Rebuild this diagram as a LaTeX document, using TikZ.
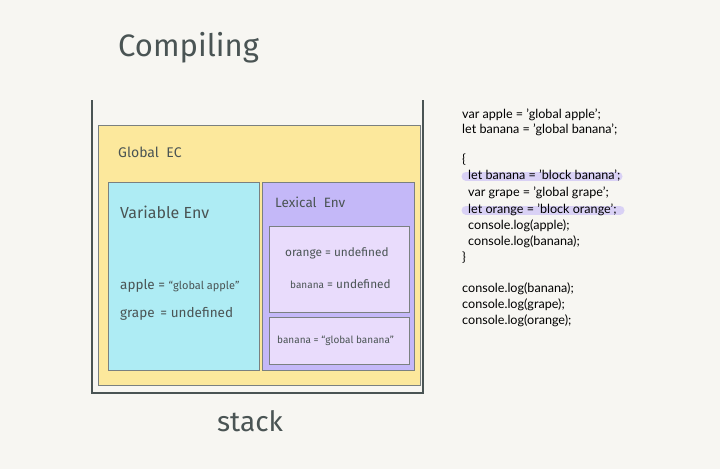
\documentclass[tikz,border=0pt]{standalone}
\usepackage{fontspec}
\setmainfont{Lato}[Ligatures=ResetAll]
\newfontfamily\hand{Fira Sans}
\definecolor{bg}{HTML}{F7F6F2}
\definecolor{ink}{HTML}{4A5454}
\definecolor{edge}{HTML}{7A8080}
\definecolor{ecyellow}{HTML}{FCE89C}
\definecolor{varcyan}{HTML}{AEECF4}
\definecolor{lexpurple}{HTML}{C4B8F8}
\definecolor{innerpurple}{HTML}{E9DCFC}
\definecolor{hilite}{HTML}{D9D1F5}
\begin{document}
\begin{tikzpicture}[x=1pt,y=-1pt,
  envbox/.style={draw=edge,line width=0.8pt},
  handtext/.style={text=ink,font=\hand\fontsize{13.5}{15}\selectfont,anchor=west,inner sep=0pt},
  codeline/.style={anchor=west,inner sep=0pt,font=\fontsize{12.6}{14}\selectfont,text=black},
  hl/.style={line width=9pt,line cap=round,draw=hilite}]
\fill[bg] (0,0) rectangle (720,469);
\useasboundingbox (0,0) rectangle (720,469);
% title
\node[text=ink,font=\hand\fontsize{31}{34}\selectfont,anchor=west,inner sep=0pt] (title) at (118,48) {Compiling};
% stack container
\draw[ink,line width=2.6pt] (92,100) -- (92,393) -- (423,393) -- (423,100);
\node[text=ink,font=\hand\fontsize{28}{32}\selectfont,inner sep=0pt] (stack) at (250,421) {stack};
% Global EC
\path[envbox,fill=ecyellow] (98,125) rectangle (420,385);
\node[handtext,font=\hand\fontsize{14}{16}\selectfont] (gec) at (118,152) {Global \ EC};
% Variable Env
\path[envbox,fill=varcyan] (108,182) rectangle (259,370);
\node[handtext,font=\hand\fontsize{16}{18}\selectfont] (venv) at (120,212) {Variable Env};
\node[handtext] (apple) at (120,286) {apple = {\fontsize{11}{12}\selectfont “global apple”}};
\node[handtext] (grape) at (120,314) {grape \,= undefined};
% Lexical Env
\path[envbox,fill=lexpurple] (262,182) rectangle (414,370);
\node[handtext,font=\hand\fontsize{13.5}{15}\selectfont] (lenv) at (275,202) {Lexical \ Env};
\path[envbox,fill=innerpurple] (269,226) rectangle (409,312);
\node[handtext,font=\hand\fontsize{11.8}{13}\selectfont] (orange) at (285,253) {orange = undefined};
\node[handtext,font=\hand\fontsize{11.8}{13}\selectfont] (banana) at (290,284) {{\fontsize{10}{11}\selectfont banana} = undefined};
\path[envbox,fill=innerpurple] (269,317) rectangle (409,364);
\node[handtext,font=\hand\fontsize{10}{11}\selectfont] (gbanana) at (277,341) {banana = “global banana”};
% highlights
\draw[hl] (466,176) -- (618,176);
\draw[hl] (466,210) -- (620,210);
% code
\node[codeline] (c1) at (462,115) {var apple = 'global apple';};
\node[codeline] (c2) at (462,130) {let banana = 'global banana';};
\node[codeline] (c3) at (462,160) {\{};
\node[codeline] (c4) at (468,176) {let banana = 'block banana';};
\node[codeline] (c5) at (468,193) {var grape = 'global grape';};
\node[codeline] (c6) at (468,210) {let orange = 'block orange';};
\node[codeline] (c7) at (468,226) {console.log(apple);};
\node[codeline] (c8) at (468,242) {console.log(banana);};
\node[codeline] (c9) at (462,258) {\}};
\node[codeline] (c10) at (462,289) {console.log(banana);};
\node[codeline] (c11) at (462,305) {console.log(grape);};
\node[codeline] (c12) at (462,321) {console.log(orange);};
\end{tikzpicture}
\end{document}
